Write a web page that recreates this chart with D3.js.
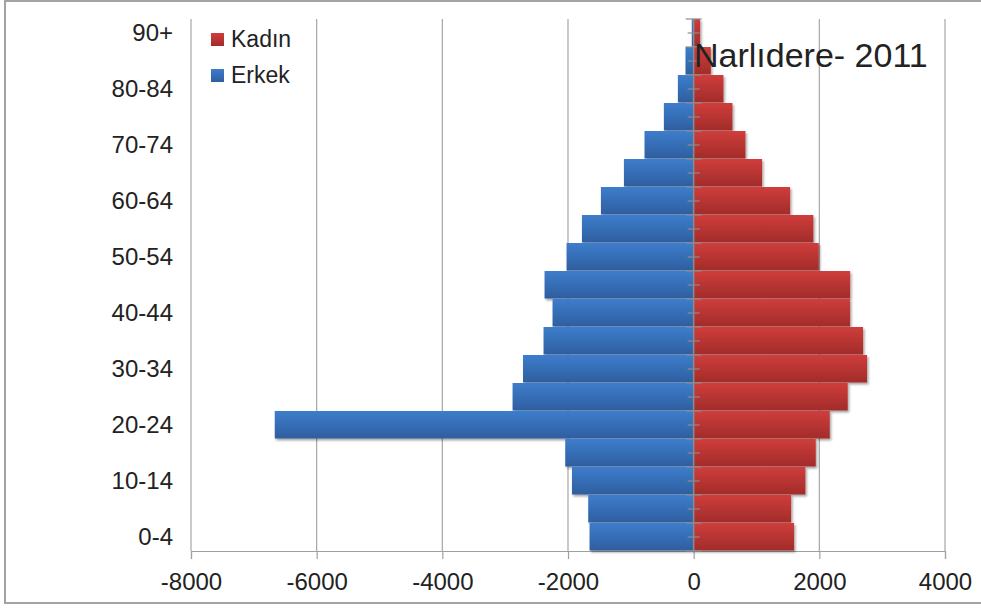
<!DOCTYPE html>
<html>
<head>
<meta charset="utf-8">
<script src="https://cdn.jsdelivr.net/npm/d3@7"></script>
<style>
  body { margin: 0; background: #fff; }
  svg text { font-family: "Liberation Sans", Arial, sans-serif; fill: #222; }
</style>
</head>
<body>
<div id="chart"></div>
<script>
// age groups, bottom to top
const ageGroups = ['0-4', '5-9', '10-14', '15-19', '20-24', '25-29', '30-34', '35-39', '40-44',
    '45-49', '50-54', '55-59', '60-64', '65-69', '70-74', '75-79', '80-84', '85-89', '90+'];
// Erkek (men) drawn to the left, so negative
const erkek = [-1657, -1678, -1937, -2044, -6667, -2882, -2716, -2389, -2246,
    -2373, -2023, -1778, -1476, -1110, -782, -474, -251, -130, -30];
// Kadın (women)
const kadin = [1598, 1551, 1778, 1943, 2166, 2452, 2759, 2696, 2489,
    2490, 1991, 1905, 1535, 1089, 824, 617, 474, 273, 103];
const xTicks = [-8000, -6000, -4000, -2000, 0, 2000, 4000];
const yLabels = ['0-4', '10-14', '20-24', '30-34', '40-44', '50-54', '60-64', '70-74', '80-84', '90+'];
const seriesNames = ['Kadın', 'Erkek'];
const titleText = 'Narlıdere- 2011';

const width = 981, height = 610;
const margin = { top: 19, right: 36, bottom: 59, left: 191 };
const innerW = width - margin.left - margin.right;
const innerH = height - margin.top - margin.bottom;

const svg = d3.select('#chart')
    .append('svg')
    .attr('width', width)
    .attr('height', height);

const defs = svg.append('defs');
function gradient(id, top, bottom) {
    const g = defs.append('linearGradient')
        .attr('id', id)
        .attr('x1', 0).attr('y1', 0).attr('x2', 0).attr('y2', 1);
    g.append('stop').attr('offset', '0%').attr('stop-color', top);
    g.append('stop').attr('offset', '100%').attr('stop-color', bottom);
}
gradient('gradBlue', '#3d7dcc', '#2e5e9f');
gradient('gradRed', '#cf3d3b', '#a22c2a');

const shadow = defs.append('filter').attr('id', 'shadow')
    .attr('x', '-5%').attr('y', '-20%').attr('width', '110%').attr('height', '150%');
shadow.append('feDropShadow')
    .attr('dx', 1.5).attr('dy', 2).attr('stdDeviation', 1.2)
    .attr('flood-color', '#000').attr('flood-opacity', 0.35);

// outer frame
svg.append('rect')
    .attr('x', 5).attr('y', 1)
    .attr('width', 1000).attr('height', 602)
    .attr('fill', 'none')
    .attr('stroke', '#a3a3a3')
    .attr('stroke-width', 2);

const chart = svg.append('g')
    .attr('transform', `translate(${margin.left},${margin.top})`);

const xScale = d3.scaleLinear()
    .domain([-8000, 4000])
    .range([0, innerW]);

const yScale = d3.scaleBand()
    .domain(ageGroups.slice().reverse())
    .range([0, innerH])
    .padding(0);

// vertical gridlines (extend below axis as tick marks)
const xAxis = d3.axisBottom(xScale)
    .tickValues(xTicks)
    .tickSize(8)
    .tickPadding(14)
    .tickFormat(d => String(d));

const gridG = chart.append('g')
    .attr('class', 'grid');
gridG.selectAll('line')
    .data(xTicks.filter(d => d !== 0))
    .join('line')
    .attr('x1', d => xScale(d))
    .attr('x2', d => xScale(d))
    .attr('y1', 0)
    .attr('y2', innerH)
    .attr('stroke', '#a6a6a6')
    .attr('stroke-width', 1.2);

const xAxisG = chart.append('g')
    .attr('class', 'axis x-axis')
    .attr('transform', `translate(0,${innerH})`)
    .call(xAxis);
xAxisG.select('.domain').attr('stroke', '#a0a0a0').attr('stroke-width', 1.2);
xAxisG.selectAll('.tick line').attr('stroke', '#a0a0a0').attr('stroke-width', 1.2);
xAxisG.selectAll('.tick text')
    .style('font-size', '24px')
    .style('font-family', '"Liberation Sans", Arial, sans-serif')
    .attr('fill', '#222');

// category labels on the left
const yAxis = d3.axisLeft(yScale)
    .tickValues(yLabels)
    .tickSize(0)
    .tickPadding(18);
const yAxisG = chart.append('g')
    .attr('class', 'axis y-axis')
    .call(yAxis);
yAxisG.select('.domain').remove();
yAxisG.selectAll('.tick text')
    .style('font-size', '24px')
    .style('font-family', '"Liberation Sans", Arial, sans-serif')
    .attr('fill', '#222');

// bars
const rows = ageGroups.map((g, i) => ({ group: g, erkek: erkek[i], kadin: kadin[i] }));
const barsG = chart.append('g').attr('filter', 'url(#shadow)');

barsG.selectAll('.bar-erkek')
    .data(rows)
    .join('rect')
    .attr('class', 'bar-erkek')
    .attr('x', d => xScale(d.erkek))
    .attr('y', d => yScale(d.group))
    .attr('width', d => xScale(0) - xScale(d.erkek))
    .attr('height', yScale.bandwidth() - 0.5)
    .attr('fill', 'url(#gradBlue)');

barsG.selectAll('.bar-kadin')
    .data(rows)
    .join('rect')
    .attr('class', 'bar-kadin')
    .attr('x', xScale(0))
    .attr('y', d => yScale(d.group))
    .attr('width', d => xScale(d.kadin) - xScale(0))
    .attr('height', yScale.bandwidth() - 0.5)
    .attr('fill', 'url(#gradRed)');

// category axis at zero with cross ticks
const zeroG = chart.append('g')
    .attr('transform', `translate(${xScale(0)},0)`);
zeroG.append('line')
    .attr('y1', 0).attr('y2', innerH)
    .attr('stroke', '#8c8c8c')
    .attr('stroke-width', 1.5);
const bounds = ageGroups.map(g => yScale(g)).concat([innerH]);
zeroG.selectAll('.tick-major')
    .data(bounds)
    .join('line')
    .attr('class', 'tick-major')
    .attr('x1', -8).attr('x2', 8)
    .attr('y1', d => d).attr('y2', d => d)
    .attr('stroke', '#8c8c8c')
    .attr('stroke-width', 1.2);
zeroG.selectAll('.tick-minor')
    .data(ageGroups)
    .join('line')
    .attr('class', 'tick-minor')
    .attr('x1', -6).attr('x2', 6)
    .attr('y1', d => yScale(d) + yScale.bandwidth() / 2)
    .attr('y2', d => yScale(d) + yScale.bandwidth() / 2)
    .attr('stroke', '#8c8c8c')
    .attr('stroke-width', 1.2);

// legend
const legendColors = ['url(#gradRed)', 'url(#gradBlue)'];
const legend = svg.append('g')
    .attr('transform', 'translate(211,33)');
const item = legend.selectAll('g')
    .data(seriesNames)
    .join('g')
    .attr('transform', (d, i) => `translate(0,${i * 36})`);
item.append('rect')
    .attr('width', 13)
    .attr('height', 13)
    .attr('fill', (d, i) => legendColors[i]);
item.append('text')
    .attr('x', 20)
    .attr('y', 14)
    .style('font-size', '23px')
    .text(d => d);

// title
svg.append('text')
    .attr('x', 694)
    .attr('y', 67)
    .style('font-size', '34px')
    .attr('fill', '#000')
    .text(titleText);
</script>
</body>
</html>
